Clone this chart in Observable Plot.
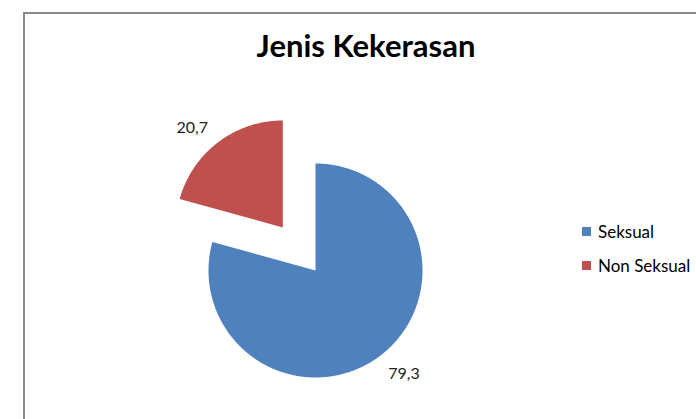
<!DOCTYPE html>
<html>
<head>
<meta charset="utf-8">
<script src="https://cdn.jsdelivr.net/npm/d3@7"></script>
<script src="https://cdn.jsdelivr.net/npm/@observablehq/plot@0.6"></script>
<style>
  html, body { margin: 0; padding: 0; background: #fff; }
  #wrap { position: relative; width: 696px; height: 419px; overflow: hidden; font-family: Lato, "Open Sans", sans-serif; }
  #frame { position: absolute; left: 23px; top: 12px; width: 700px; height: 420px; border-left: 2px solid #8a8a8a; border-top: 2px solid #8a8a8a; }
  #title { position: absolute; left: 0; width: 732px; top: 27px; line-height: 36px; text-align: center; font-weight: 700; font-size: 31px; color: #000; }
  #legend { position: absolute; left: 582px; top: 220px; font-size: 17px; color: #000; }
  .item { display: flex; align-items: center; height: 23px; margin-bottom: 11px; }
  .sw { width: 9px; height: 9px; margin-right: 7px; }
  #chart { position: absolute; left: 0; top: 0; }
</style>
</head>
<body>
<div id="wrap">
  <div id="frame"></div>
  <div id="chart"></div>
  <div id="title"></div>
  <div id="legend"></div>
</div>
<script>
const title = "Jenis Kekerasan";
const categories = ["Seksual", "Non Seksual"];
const values = [79.3, 20.7];
const labels = ["79,3", "20,7"];
const colors = ["#4F81BD", "#C0504D"];
const exploded = [false, true];

const W = 696, H = 419;
const cx = 315, cy = 270, R = 107;   // layout of pie in pixels
const explodeDist = 0.505;          // in radius units

const total = d3.sum(values);
let acc = 0;
const slices = categories.map((c, i) => {
  const a0 = acc / total * 2 * Math.PI;
  acc += values[i];
  const a1 = acc / total * 2 * Math.PI;
  const mid = (a0 + a1) / 2;
  const ox = exploded[i] ? explodeDist * Math.sin(mid) : 0;
  const oy = exploded[i] ? explodeDist * Math.cos(mid) : 0;
  return {cat: c, value: values[i], label: labels[i], a0, a1, mid, ox, oy};
});

const pts = [];
for (const s of slices) {
  pts.push({cat: s.cat, x: s.ox, y: s.oy});
  const n = Math.max(2, Math.ceil((s.a1 - s.a0) / (Math.PI / 360)));
  for (let k = 0; k <= n; k++) {
    const a = s.a0 + (s.a1 - s.a0) * k / n;
    pts.push({cat: s.cat, x: s.ox + Math.sin(a), y: s.oy + Math.cos(a)});
  }
  pts.push({cat: s.cat, x: s.ox, y: s.oy});
}

const lblR = 1.2;
const lbls = slices.map(s => ({
  label: s.label,
  x: s.ox + lblR * Math.sin(s.mid),
  y: s.oy + lblR * Math.cos(s.mid),
  anchor: Math.sin(s.mid) >= 0 ? "start" : "end"
}));

const plot = Plot.plot({
  width: W, height: H,
  margin: 0,
  x: {domain: [-cx / R, (W - cx) / R], axis: null},
  y: {domain: [-(H - cy) / R, cy / R], axis: null},
  color: {domain: categories, range: colors},
  style: {background: "transparent", overflow: "visible"},
  marks: [
    Plot.line(pts, {x: "x", y: "y", z: "cat", fill: "cat", stroke: null, curve: "linear"}),
    Plot.text(lbls.filter(d => d.anchor === "start"), {x: "x", y: "y", text: "label", textAnchor: "start", dx: -5, dy: 1, fontSize: 16, fill: "#222", fontFamily: "Lato, sans-serif"}),
    Plot.text(lbls.filter(d => d.anchor === "end"), {x: "x", y: "y", text: "label", textAnchor: "end", dx: 3, dy: 3, fontSize: 16, fill: "#222", fontFamily: "Lato, sans-serif"})
  ]
});
document.getElementById("chart").appendChild(plot);
document.getElementById("title").textContent = title;
const leg = document.getElementById("legend");
categories.forEach((c, i) => {
  const it = document.createElement("div");
  it.className = "item";
  const sw = document.createElement("div");
  sw.className = "sw";
  sw.style.background = colors[i];
  const t = document.createElement("span");
  t.textContent = c;
  it.appendChild(sw); it.appendChild(t);
  leg.appendChild(it);
});
</script>
</body>
</html>
